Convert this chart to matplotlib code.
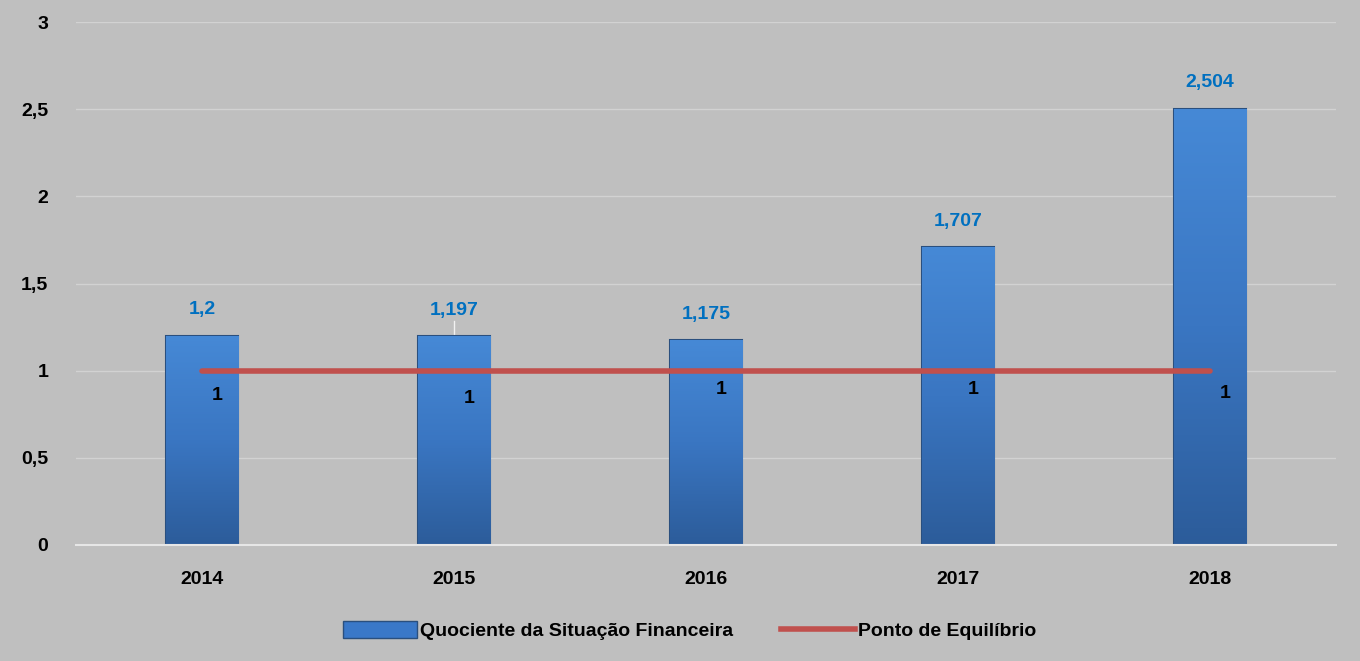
import matplotlib.pyplot as plt
import numpy as np
from matplotlib.lines import Line2D
from matplotlib.patches import Patch
from matplotlib.colors import LinearSegmentedColormap

# dados
anos = ['2014', '2015', '2016', '2017', '2018']
quociente = [1.2, 1.197, 1.175, 1.707, 2.504]
rotulos_quociente = ['1,2', '1,197', '1,175', '1,707', '2,504']
equilibrio = [1, 1, 1, 1, 1]
yticks = [0, 0.5, 1, 1.5, 2, 2.5, 3]
ytick_labels = ['0', '0,5', '1', '1,5', '2', '2,5', '3']

plt.rcParams['font.family'] = ['Liberation Sans', 'DejaVu Sans']
plt.rcParams['font.weight'] = 'bold'

fundo = '#BFBFBF'
fig = plt.figure(figsize=(13.6, 6.61), dpi=100, facecolor=fundo)
ax = fig.add_axes([0.056, 0.1755, 0.926, 0.791], facecolor=fundo)

x = np.arange(len(anos))
largura = 0.286

# barras com gradiente
grad = np.linspace(0, 1, 256).reshape(-1, 1)
cmap = LinearSegmentedColormap.from_list('azul', ['#2C5C9A', '#3A76C2', '#4689D6'])
barras = ax.bar(x, quociente, width=largura, color='#3A78C8',
                edgecolor='#2A4F7E', linewidth=1.5, zorder=2,
                label='Quociente da Situação Financeira')
for b in barras:
    x0, y0 = b.get_x(), b.get_y()
    w, h = b.get_width(), b.get_height()
    im = ax.imshow(grad, extent=[x0, x0 + w, y0, y0 + h], origin='lower',
                   cmap=cmap, aspect='auto', zorder=2.1)
    im.set_clip_path(b)

# linha de equilibrio
ax.plot(x, equilibrio, color='#C0504D', linewidth=4, solid_capstyle='round',
        zorder=3, label='Ponto de Equilíbrio')

# rotulos
offsets_eq = [0.86, 0.84, 0.89, 0.89, 0.87]
for i, v in enumerate(quociente):
    ax.text(x[i], v + 0.1, rotulos_quociente[i], ha='center', va='bottom',
            color='#0070C0', fontsize=14, fontweight='bold', zorder=4)
    ax.text(x[i] + 0.06, offsets_eq[i], '1', ha='center', va='center',
            color='black', fontsize=14, fontweight='bold', zorder=4)
# linha guia 2015
ax.plot([x[1], x[1]], [quociente[1] + 0.01, quociente[1] + 0.09], color='#F2F2F2',
        linewidth=1, zorder=1.5)

ax.set_xlim(-0.5, len(anos) - 0.5)
ax.set_ylim(0, 3)
ax.set_xticks(x)
ax.set_xticklabels(anos, fontsize=14, fontweight='bold')
ax.set_yticks(yticks)
ax.set_yticklabels(ytick_labels, fontsize=14, fontweight='bold')
ax.tick_params(axis='x', length=0, pad=19)
ax.tick_params(axis='y', length=0, pad=20)
ax.grid(axis='y', color='#D2D2D2', linewidth=1, zorder=0)
ax.set_axisbelow(True)
for s in ['top', 'right', 'left']:
    ax.spines[s].set_visible(False)
ax.spines['bottom'].set_color('#E6E6E6')
ax.spines['bottom'].set_linewidth(1.5)
ax.spines['bottom'].set_zorder(5)

handles = [Patch(facecolor='#3A78C8', edgecolor='#2A4F7E', label='Quociente da Situação Financeira'),
           Line2D([0], [0], color='#C0504D', linewidth=4, label='Ponto de Equilíbrio')]
fig.legend(handles=handles, loc='center', bbox_to_anchor=(0.507, 0.046), ncol=2,
           frameon=False, handlelength=3.8, handleheight=1.0,
           columnspacing=2.5, handletextpad=0.15,
           prop={'family': ['Liberation Sans'], 'weight': 'bold', 'size': 14})

fig.savefig('out.png', dpi=100, facecolor=fundo)
